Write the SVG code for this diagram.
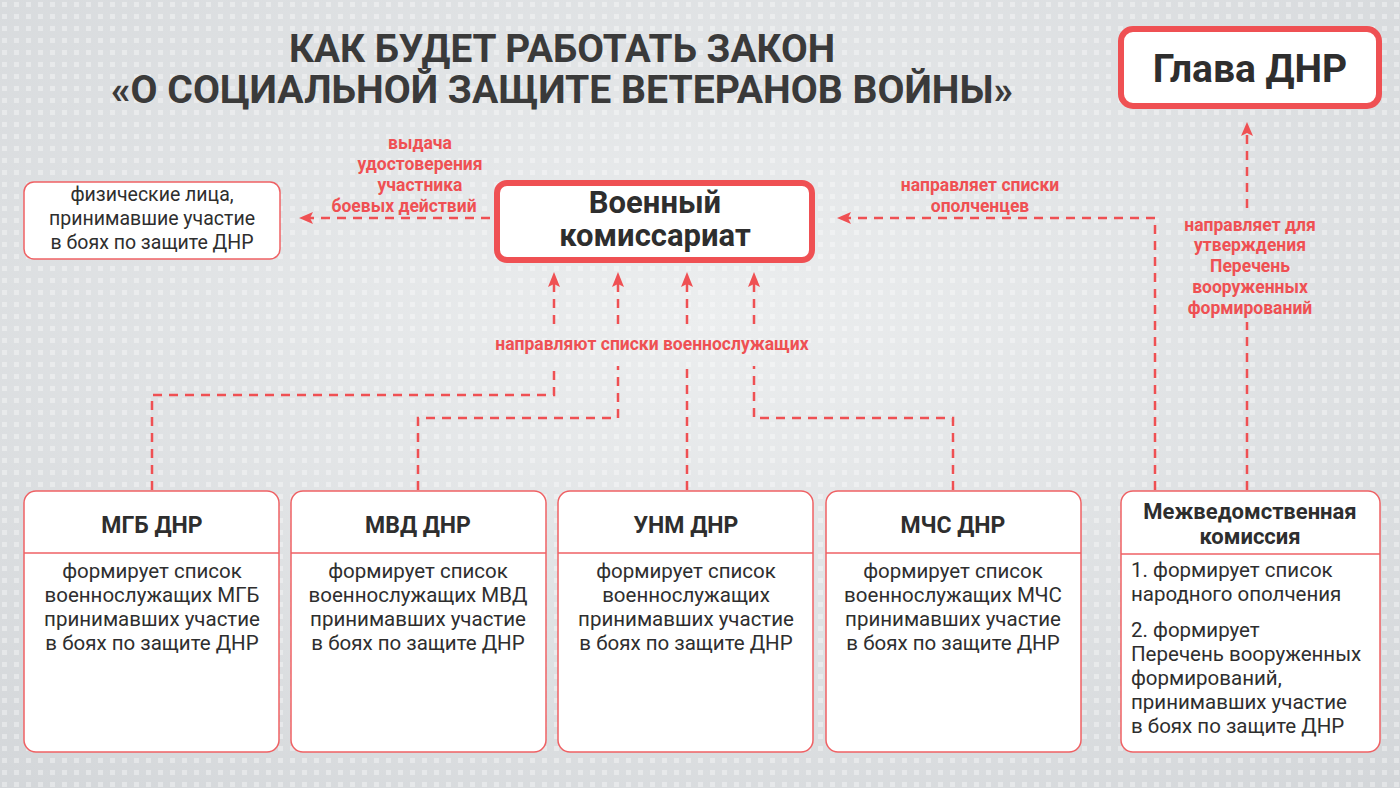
<svg xmlns="http://www.w3.org/2000/svg" width="1400" height="788" viewBox="0 0 1400 788">
<defs>
<radialGradient id="bg" cx="0.5" cy="0.4" r="0.8"><stop offset="0" stop-color="#eceeef"/><stop offset="1" stop-color="#d3d6d9"/></radialGradient>
<pattern id="dots" width="12" height="12" patternUnits="userSpaceOnUse"><rect x="2" y="2" width="5" height="5" fill="#ffffff" opacity="0.35"/></pattern>
<marker id="ahx" viewBox="0 0 14 12" refX="1" refY="6" markerWidth="14" markerHeight="12" orient="0" markerUnits="userSpaceOnUse"><path d="M0 6 L14 0 L11 6 L14 12 Z" fill="#ef5053"/></marker>
</defs>
<style>
.title{font-family:Roboto,"Liberation Sans",sans-serif;font-weight:700;font-size:38px;fill:#3a3a3a;text-anchor:middle;}
.lbl{font-family:Roboto,"Liberation Sans",sans-serif;font-weight:700;font-size:17.5px;fill:#ef5053;text-anchor:middle;}
.box{fill:#fff;stroke:#ef6164;stroke-width:1.5;}
.big{fill:#fff;stroke:#ef5053;stroke-width:6;}
.hd{font-family:Roboto,"Liberation Sans",sans-serif;font-weight:700;font-size:23px;fill:#2e2e2e;text-anchor:middle;}
.bd{font-family:Roboto,"Liberation Sans",sans-serif;font-size:20.5px;fill:#2e2e2e;text-anchor:middle;}
.c{fill:none;stroke:#ef5053;stroke-width:2.5;stroke-dasharray:9 7;}
</style>
<rect width="1400" height="788" fill="url(#bg)"/>
<rect width="1400" height="788" fill="url(#dots)"/>
<g id="title">
<text class="title" x="562" y="62" textLength="546" lengthAdjust="spacingAndGlyphs">КАК БУДЕТ РАБОТАТЬ ЗАКОН</text>
<text class="title" x="562" y="103" textLength="902" lengthAdjust="spacingAndGlyphs">«О СОЦИАЛЬНОЙ ЗАЩИТЕ ВЕТЕРАНОВ ВОЙНЫ»</text>
</g>
<g id="connectors">
<path class="c" d="M490 218 H300" marker-end="url(#ahx)"/>
<path class="c" d="M1155 490 V218 H838" marker-end="url(#ahx)"/>
<path class="c" d="M1247 490 V322 M1247 208 V130"/>
<path d="M1247 122 L1253 136 L1247 133 L1241 136 Z" fill="#ef5053"/>
<path class="c" d="M152 490 V395 H554 V366 M554 324 V284"/>
<path class="c" d="M418 490 V418 H618 V366 M618 324 V284"/>
<path class="c" d="M687 490 V366 M687 324 V284"/>
<path class="c" d="M953 490 V418 H754 V366 M754 324 V284"/>
<g fill="#ef5053">
<path d="M554 272 L560 287 L554 284 L548 287 Z"/>
<path d="M618 272 L624 287 L618 284 L612 287 Z"/>
<path d="M687 272 L693 287 L687 284 L681 287 Z"/>
<path d="M754 272 L760 287 L754 284 L748 287 Z"/>
</g>
<text class="lbl" x="652" y="350">направляют списки военнослужащих</text>
<text class="lbl" x="420" y="149">выдача</text>
<text class="lbl" x="420" y="170">удостоверения</text>
<text class="lbl" x="420" y="191">участника</text>
<text class="lbl" x="404" y="212">боевых действий</text>
<text class="lbl" x="980" y="191">направляет списки</text>
<text class="lbl" x="980" y="212">ополченцев</text>
<text class="lbl" x="1250" y="231">направляет для</text>
<text class="lbl" x="1250" y="251">утверждения</text>
<text class="lbl" x="1250" y="272">Перечень</text>
<text class="lbl" x="1250" y="293">вооруженных</text>
<text class="lbl" x="1250" y="314">формирований</text>
</g>
<g id="glava">
<rect class="big" x="1121" y="29" width="258" height="77" rx="12"/>
<text class="hd" x="1250" y="82" style="font-size:39px">Глава ДНР</text>
</g>
<g id="voenkom">
<rect class="big" x="497" y="183" width="315" height="77" rx="10"/>
<text class="hd" x="655" y="213" style="font-size:31px">Военный</text>
<text class="hd" x="655" y="246" style="font-size:31px">комиссариат</text>
</g>
<g id="fiz">
<rect class="box" x="24" y="182" width="256" height="77" rx="10"/>
<text class="bd" x="152" y="201" style="font-size:19.5px">физические лица,</text>
<text class="bd" x="152" y="225" style="font-size:19.5px">принимавшие участие</text>
<text class="bd" x="152" y="249" style="font-size:19.5px">в боях по защите ДНР</text>
</g>
<g id="mgb">
<rect class="box" x="24" y="491" width="255" height="261" rx="12"/>
<line x1="24" y1="553" x2="279" y2="553" stroke="#ef6164" stroke-width="1.5"/>
<text class="hd" x="152" y="533">МГБ ДНР</text>
<text class="bd" x="152" y="578">формирует список</text>
<text class="bd" x="152" y="602">военнослужащих МГБ</text>
<text class="bd" x="152" y="626">принимавших участие</text>
<text class="bd" x="152" y="650">в боях по защите ДНР</text>
</g>
<g id="mvd">
<rect class="box" x="291" y="491" width="255" height="261" rx="12"/>
<line x1="291" y1="553" x2="546" y2="553" stroke="#ef6164" stroke-width="1.5"/>
<text class="hd" x="418" y="533">МВД ДНР</text>
<text class="bd" x="418" y="578">формирует список</text>
<text class="bd" x="418" y="602">военнослужащих МВД</text>
<text class="bd" x="418" y="626">принимавших участие</text>
<text class="bd" x="418" y="650">в боях по защите ДНР</text>
</g>
<g id="unm">
<rect class="box" x="558" y="491" width="255" height="261" rx="12"/>
<line x1="558" y1="553" x2="813" y2="553" stroke="#ef6164" stroke-width="1.5"/>
<text class="hd" x="686" y="533">УНМ ДНР</text>
<text class="bd" x="686" y="578">формирует список</text>
<text class="bd" x="686" y="602">военнослужащих</text>
<text class="bd" x="686" y="626">принимавших участие</text>
<text class="bd" x="686" y="650">в боях по защите ДНР</text>
</g>
<g id="mchs">
<rect class="box" x="826" y="491" width="255" height="261" rx="12"/>
<line x1="826" y1="553" x2="1081" y2="553" stroke="#ef6164" stroke-width="1.5"/>
<text class="hd" x="953" y="533">МЧС ДНР</text>
<text class="bd" x="953" y="578">формирует список</text>
<text class="bd" x="953" y="602">военнослужащих МЧС</text>
<text class="bd" x="953" y="626">принимавших участие</text>
<text class="bd" x="953" y="650">в боях по защите ДНР</text>
</g>
<g id="mvk">
<rect class="box" x="1121" y="491" width="259" height="261" rx="12"/>
<line x1="1121" y1="554" x2="1380" y2="554" stroke="#ef6164" stroke-width="1.5"/>
<text class="hd" x="1250" y="519" style="font-size:22px">Межведомственная</text>
<text class="hd" x="1250" y="544" style="font-size:22px">комиссия</text>
<text class="bd" x="1131" y="577" style="text-anchor:start">1. формирует список</text>
<text class="bd" x="1131" y="601" style="text-anchor:start">народного ополчения</text>
<text class="bd" x="1131" y="637" style="text-anchor:start">2. формирует</text>
<text class="bd" x="1131" y="661" style="text-anchor:start">Перечень вооруженных</text>
<text class="bd" x="1131" y="685" style="text-anchor:start">формирований,</text>
<text class="bd" x="1131" y="709" style="text-anchor:start">принимавших участие</text>
<text class="bd" x="1131" y="733" style="text-anchor:start">в боях по защите  ДНР</text>
</g>
</svg>
